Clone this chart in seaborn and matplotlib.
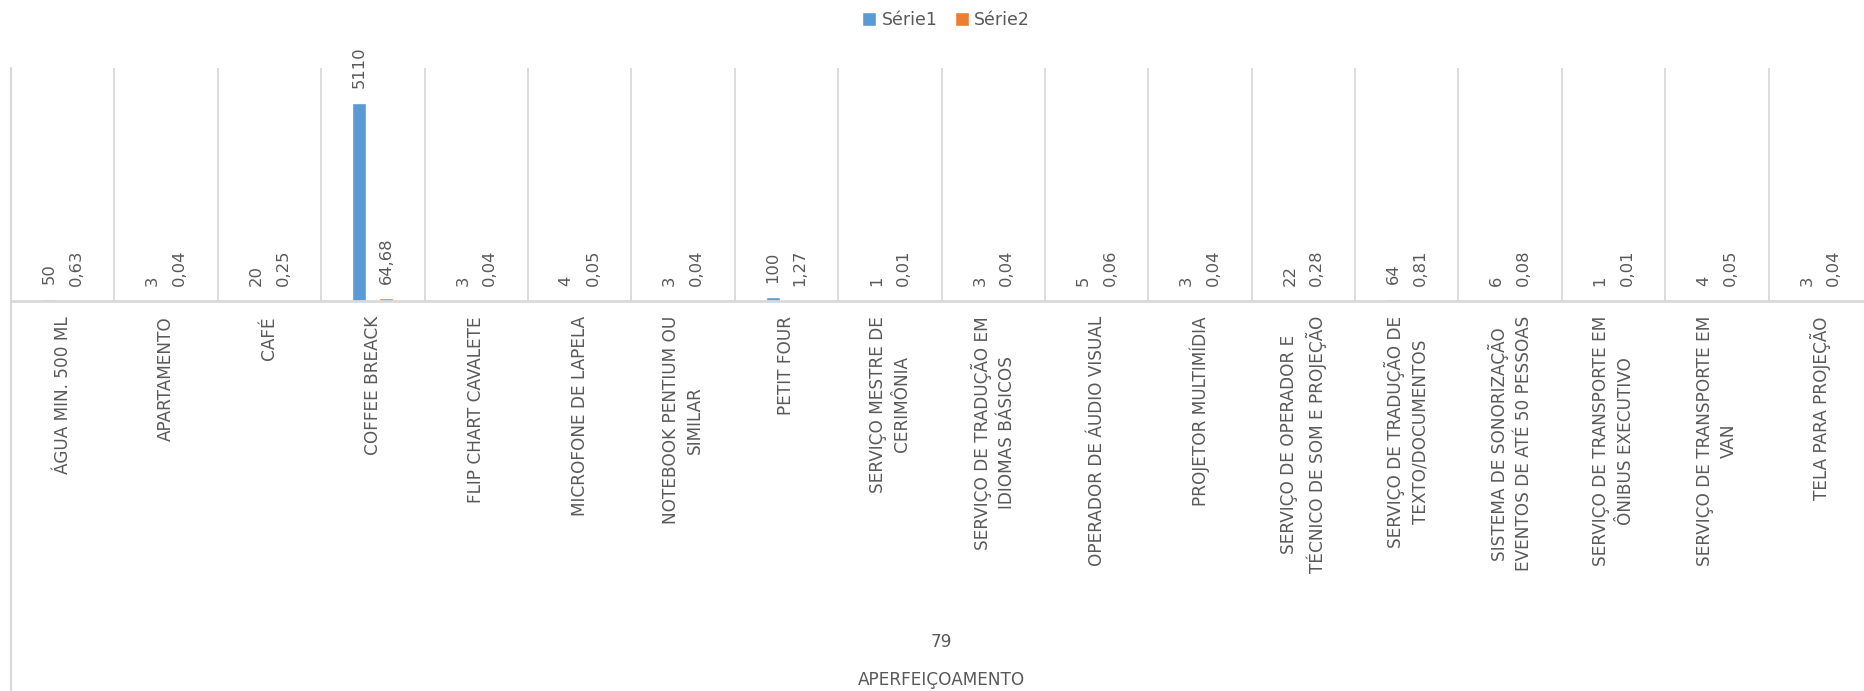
import numpy as np
import pandas as pd
import matplotlib
matplotlib.use("Agg")
import matplotlib.pyplot as plt
import seaborn as sns

# Données
CATEGORIES = [
    "ÁGUA MIN. 500 ML",
    "APARTAMENTO",
    "CAFÉ",
    "COFFEE BREACK",
    "FLIP CHART CAVALETE",
    "MICROFONE DE LAPELA",
    "NOTEBOOK PENTIUM OU\nSIMILAR",
    "PETIT FOUR",
    "SERVIÇO MESTRE DE\nCERIMÔNIA",
    "SERVIÇO DE TRADUÇÃO EM\nIDIOMAS BÁSICOS",
    "OPERADOR DE ÁUDIO VISUAL",
    "PROJETOR MULTIMÍDIA",
    "SERVIÇO DE OPERADOR E\nTÉCNICO DE SOM E PROJEÇÃO",
    "SERVIÇO DE TRADUÇÃO DE\nTEXTO/DOCUMENTOS",
    "SISTEMA DE SONORIZAÇÃO\nEVENTOS DE ATÉ 50 PESSOAS",
    "SERVIÇO DE TRANSPORTE EM\nÔNIBUS EXECUTIVO",
    "SERVIÇO DE TRANSPORTE EM\nVAN",
    "TELA PARA PROJEÇÃO",
]
SERIE1 = [50, 3, 20, 5110, 3, 4, 3, 100, 1, 3, 5, 3, 22, 64, 6, 1, 4, 3]
SERIE2 = [0.63, 0.04, 0.25, 64.68, 0.04, 0.05, 0.04, 1.27, 0.01, 0.04,
          0.06, 0.04, 0.28, 0.81, 0.08, 0.01, 0.05, 0.04]
SERIES = ["Série1", "Série2"]
NIVEAU2 = "79"
NIVEAU3 = "APERFEIÇOAMENTO"

COULEURS = ["#5B9BD5", "#ED7D31"]
GRIS_TEXTE = "#595959"
GRIS_LIGNE = "#D9D9D9"


def charger_donnees():
    df = pd.DataFrame({
        "categorie": CATEGORIES * 2,
        "valeur": SERIE1 + SERIE2,
        "serie": [SERIES[0]] * len(CATEGORIES) + [SERIES[1]] * len(CATEGORIES),
    })
    return df


def format_label(v, serie):
    if serie == SERIES[0]:
        return f"{v:g}"
    return f"{v:.2f}".replace(".", ",")


def graphe(df):
    sns.set_style("white")
    plt.rcParams["font.family"] = ["DejaVu Sans"]

    fig = plt.figure(figsize=(18.64, 6.91), dpi=100)
    ax = fig.add_axes([11 / 1864, 390 / 691, 1861 / 1864, 233 / 691])

    sns.barplot(
        data=df, x="categorie", y="valeur", hue="serie",
        order=CATEGORIES, hue_order=SERIES, palette=COULEURS,
        width=0.52, gap=0.48, errorbar=None, saturation=1,
        legend=True, ax=ax,
    )

    # étiquettes de données
    for cont, serie, vals in zip(ax.containers, SERIES, [SERIE1, SERIE2]):
        ax.bar_label(cont, labels=[format_label(v, serie) for v in vals],
                     padding=10.5, rotation=90, fontsize=11.8, color=GRIS_TEXTE)

    n = len(CATEGORIES)
    ax.set_xlim(-0.5, n - 0.5)
    ax.set_ylim(0, 6000)
    ax.set_yticks([])
    ax.set_xlabel("")
    ax.set_ylabel("")

    ax.set_xticks(range(n))
    ax.set_xticklabels(CATEGORIES, rotation=90, ha="center", va="top",
                       multialignment="center", linespacing=1.45,
                       fontsize=12.2, color=GRIS_TEXTE)
    ax.set_xticks(np.arange(-0.5, n, 1), minor=True)
    ax.tick_params(axis="x", which="both", length=0, pad=10.8)
    ax.grid(which="minor", axis="x", color=GRIS_LIGNE, lw=1.3)
    ax.grid(which="major", visible=False)

    for s in ["top", "right", "left"]:
        ax.spines[s].set_visible(False)
    ax.spines["bottom"].set_color(GRIS_LIGNE)
    ax.spines["bottom"].set_linewidth(2)

    # bordure gauche de l'axe multi-niveaux
    ax.axvline(-0.5, ymin=-1.7, ymax=1, color=GRIS_LIGNE, lw=1.5, clip_on=False)

    ax.text(0.5, -1.464, NIVEAU2, transform=ax.transAxes, ha="center",
            va="center", fontsize=12.2, color=GRIS_TEXTE)
    ax.text(0.5, -1.627, NIVEAU3, transform=ax.transAxes, ha="center",
            va="center", fontsize=12.2, color=GRIS_TEXTE)

    handles, labels = ax.get_legend_handles_labels()
    ax.legend_.remove()
    fig.legend(handles, labels, loc="center", bbox_to_anchor=(946 / 1864, 0.971),
               ncol=2, frameon=False, fontsize=12.5, labelcolor=GRIS_TEXTE,
               handlelength=0.8, handleheight=0.8, handletextpad=0.3,
               columnspacing=1.0)

    fig.savefig("out.png", dpi=100)


def main():
    df = charger_donnees()
    graphe(df)


if __name__ == "__main__":
    main()
